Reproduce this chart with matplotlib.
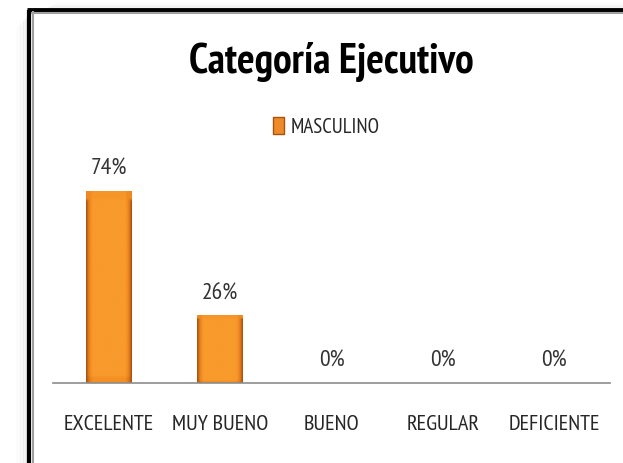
import numpy as np
import matplotlib.pyplot as plt
from matplotlib.lines import Line2D
from matplotlib.patches import Patch
from matplotlib.colors import LinearSegmentedColormap

# Data
categories = ['EXCELENTE', 'MUY BUENO', 'BUENO', 'REGULAR', 'DEFICIENTE']
masculino = [0.74, 0.26, 0.0, 0.0, 0.0]
value_labels = ['74%', '26%', '0%', '0%', '0%']

plt.rcParams['font.family'] = ['PT Sans Narrow', 'DejaVu Sans']

fig = plt.figure(figsize=(6.23, 4.63), dpi=100)
ax = fig.add_axes([53 / 623, 80 / 463, 557 / 623, 208 / 463])

x = np.arange(len(categories))
bars = ax.bar(x, masculino, width=0.41, color='#F39021', linewidth=0)

# orange bevel-like shading inside each bar
orange = LinearSegmentedColormap.from_list('orange', ['#A8520F', '#DE7A1C', '#F38E22', '#F89A2C'])
cols = np.linspace(0, 1, 60)
profile = np.clip(np.minimum(cols, 1 - cols) / 0.14, 0, 1)
shade = np.tile(profile, (60, 1))
shade[-3:, :] = np.maximum(shade[-3:, :] * 0.9, 0.6)
shade[:2, :] *= 0.7
for b in bars:
    if b.get_height() <= 0:
        continue
    im = ax.imshow(shade, cmap=orange, aspect='auto', vmin=0, vmax=1,
                   extent=[b.get_x(), b.get_x() + b.get_width(), 0, b.get_height()],
                   origin='lower', zorder=2, interpolation='bilinear')
    im.set_clip_path(b)

# value labels above the bars
for xi, v, lab in zip(x, masculino, value_labels):
    ax.text(xi, v + 0.082, lab, ha='center', va='center', fontsize=17, color='#333333')

ax.set_xlim(-0.5, len(categories) - 0.5)
ax.set_ylim(0, 0.8)
ax.set_xticks(x)
ax.set_xticklabels(categories, fontsize=16, color='#262626')
ax.tick_params(axis='x', length=0, pad=23)
ax.set_yticks([])
for side in ['left', 'right', 'top']:
    ax.spines[side].set_visible(False)
ax.spines['bottom'].set_color('#8c8c8c')
ax.spines['bottom'].set_linewidth(1.2)

# title and legend
fig.text(331 / 623, 1 - 73 / 463, 'Categoría Ejecutivo', ha='center', va='baseline',
         fontsize=30, fontweight='bold', color='black')
fig.legend(handles=[Patch(facecolor='#EE8A28', edgecolor='#A8520F', label='MASCULINO')],
           loc='center', bbox_to_anchor=(326 / 623, 1 - 127 / 463), frameon=False, fontsize=15,
           handlelength=0.55, handleheight=0.9, handletextpad=0.3, labelcolor='#262626')

# chart border (left and top) with soft shadow
tf = fig.transFigure
for i in range(8):
    off = 2 + i * 1.5
    a = 0.05 * (1 - i / 8)
    fig.add_artist(Line2D([(29 - off) / 623] * 2, [0, 1 - (16 + off) / 463], transform=tf,
                          color='black', alpha=a, lw=1.5))
    fig.add_artist(Line2D([(45 + off) / 623, 1], [1 - (9.5 - off * 0.5) / 463] * 2, transform=tf,
                          color='black', alpha=a * 0.5, lw=1.5))
fig.add_artist(Line2D([29 / 623] * 2, [0, 1 - 9.5 / 463], transform=tf, color='black', lw=3,
                      solid_capstyle='butt'))
fig.add_artist(Line2D([27 / 623, 1], [1 - 9.5 / 463] * 2, transform=tf, color='black', lw=3.5,
                      solid_capstyle='butt'))
fig.add_artist(Line2D([32.5 / 623] * 2, [0, 1 - 12 / 463], transform=tf, color='#a0a0a0', lw=1.5))
fig.add_artist(Line2D([32 / 623, 1], [1 - 13 / 463] * 2, transform=tf, color='#a0a0a0', lw=1.5))

fig.savefig('out.png', dpi=100)
